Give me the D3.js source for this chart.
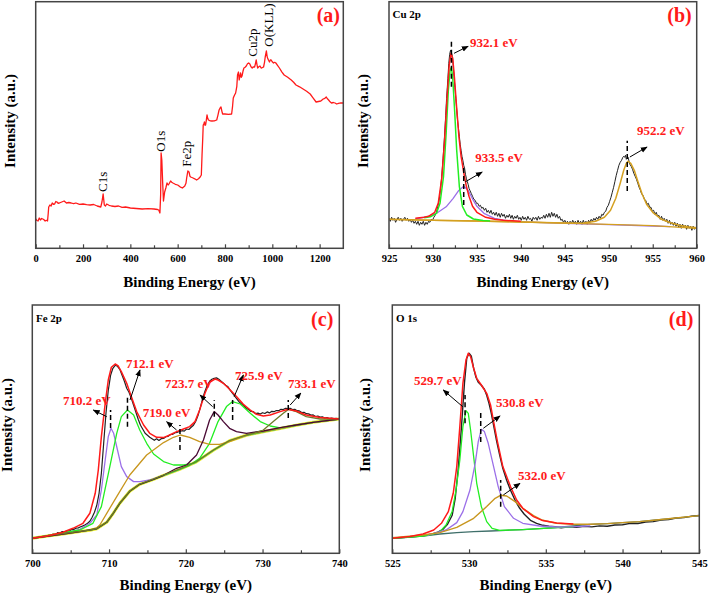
<!DOCTYPE html>
<html><head><meta charset="utf-8">
<script src="https://cdn.jsdelivr.net/npm/d3@7"></script>
<style>body{margin:0;background:#fff}svg{display:block}</style>
</head><body><svg id="c" width="709" height="595"></svg>
<script>
// ---------------- DATA (binding energy eV, intensity a.u.) ----------------
// (a) survey
const surveyA = [[0,29.3],[5,27.8],[10,27.3],[15,30.3],[20,28.3],[25,29.8],[30,29.3],[35,28.5],[40,27.3],[45,28.0],[50,27.3],[53,35],[55,41.3],[60,43.3],[65,42.3],[70,45.3],[75,44.0],[80,44.3],[85,46.8],[90,46.3],[95,45.0],[100,45.3],[110,46.3],[120,47.3],[130,45.3],[140,45.8],[150,45.3],[160,44.6],[170,45.3],[185,44.0],[200,44.3],[215,43.6],[230,43.3],[245,43.8],[260,42.3],[275,41.3],[280,46.3],[285,54.3],[290,43.3],[295,42.3],[300,44.3],[310,43.0],[320,42.3],[335,41.8],[350,42.3],[365,41.0],[380,41.3],[400,40.3],[425,39.8],[450,39.3],[475,39.6],[500,39.3],[515,38.8],[520,38.3],[525,35.3],[528,53.3],[530,95.3],[533,88.3],[537,63.3],[540,47.3],[545,56.3],[550,60.3],[555,65.3],[560,63.3],[565,65.0],[570,67.3],[575,66.0],[580,65.3],[590,64.0],[600,63.3],[610,61.5],[620,60.3],[630,62.3],[635,65],[638,70.3],[643,77.3],[648,76.3],[652,72],[655,71.3],[665,70.3],[672,69.5],[680,68.3],[688,69.5],[695,71.3],[700,73.3],[703,93.3],[706,110],[708,123.3],[711,124.5],[713,126.3],[716,123],[718,123.3],[721,128],[724,133.3],[727,130],[730,128.3],[738,127.5],[745,127.3],[755,127.5],[765,128.3],[770,133],[775,138.3],[780,140.5],[783,141.3],[787,137],[790,134.3],[800,134.3],[815,134.0],[828,134.3],[832,142],[835,150.3],[840,153],[845,155.3],[850,162],[853,173.3],[857,176.3],[860,168.3],[863,172],[866,175.3],[869,171],[872,172.3],[876,177],[880,180.3],[885,181],[890,182.3],[895,184.5],[900,185.3],[905,184.3],[910,181.5],[915,180.3],[920,181.5],[925,181.3],[928,184],[932,188.3],[935,184],[938,180.3],[943,181.5],[948,182.3],[952,180.5],[955,180.3],[960,181],[963,181.3],[967,186],[970,191.3],[975,197.3],[978,192],[980,190.3],[984,188],[988,186.3],[992,188.5],[995,188.3],[1000,186.5],[1005,185.3],[1010,186],[1015,185.3],[1022,183],[1030,180.3],[1040,176.5],[1050,173.3],[1065,171],[1080,168.3],[1090,166],[1100,163.3],[1115,161.5],[1130,159.3],[1145,157],[1160,154.3],[1172,150.5],[1185,146.3],[1195,146.8],[1205,147.3],[1215,149.3],[1222,150],[1228,151.3],[1233,149.5],[1238,148.3],[1244,146.5],[1250,145.3],[1258,145.8],[1265,145.3],[1272,144.3],[1280,145.0],[1290,145.5],[1300,145.3]];
const surveyLabels = [["C1s",302.6,56.3],["O1s",546.5,96.6],["Fe2p",656.4,81.6],["Cu2p",935.3,191.6],["O(KLL)",1002.9,201.6]];

// (b) Cu 2p
const cuRaw = [[925.0,30],[925.15,27],[925.3,31],[925.45,28],[925.6,30],[925.75,26],[925.9,29],[926.05,31],[926.2,28],[926.35,30],[926.5,27],[926.65,29],[926.8,31],[926.95,28],[927.1,30],[927.25,27],[927.4,29],[927.55,26],[927.7,28],[927.85,25],[928.0,27],[928.15,24],[928.3,27],[928.45,23],[928.6,26],[928.75,24],[928.9,27],[929.05,23],[929.2,26],[929.35,24],[929.5,27],[929.65,26],[929.8,29],[929.95,28],[930.1,31],[930.25,33],[930.4,36],[930.55,42],[930.7,48],[930.85,58],[931.0,72],[931.15,90],[931.3,110],[931.45,133],[931.55,150],[931.7,170],[931.8,185],[931.9,194],[932.0,198],[932.1,196],[932.2,192],[932.3,183],[932.4,172],[932.5,161],[932.6,150],[932.7,139],[932.8,128],[932.9,120],[933.0,112],[933.1,104],[933.2,98],[933.3,92],[933.4,88],[933.5,83],[933.6,80],[933.7,74],[933.8,70],[933.9,67],[934.0,64],[934.1,60],[934.2,58],[934.35,55],[934.5,52],[934.65,49],[934.8,48],[934.95,45],[935.1,45],[935.25,42],[935.4,43],[935.55,40],[935.7,41],[935.85,38],[936.0,40],[936.15,36],[936.3,38],[936.45,35],[936.6,38],[936.75,34],[936.9,36],[937.05,33],[937.2,36],[937.35,32],[937.5,35],[937.65,31],[937.8,35],[937.95,32],[938.1,34],[938.25,30],[938.4,33],[938.55,31],[938.7,34],[938.85,30],[939.0,33],[939.15,29],[939.3,32],[939.45,30],[939.6,33],[939.75,29],[939.9,31],[940.05,28],[940.2,32],[940.35,29],[940.5,31],[940.65,28],[940.8,32],[940.95,29],[941.1,30],[941.25,27],[941.4,31],[941.55,29],[941.7,31],[941.85,28],[942.0,32],[942.15,29],[942.3,31],[942.45,30],[942.6,33],[942.75,30],[942.9,34],[943.05,31],[943.2,35],[943.35,31],[943.5,36],[943.65,32],[943.8,35],[943.95,31],[944.1,34],[944.25,30],[944.4,32],[944.55,28],[944.7,29],[944.85,26],[945.0,28],[945.15,25],[945.3,27],[945.45,24],[945.6,27],[945.75,25],[945.9,28],[946.05,25],[946.2,27],[946.35,24],[946.5,28],[946.65,25],[946.8,27],[946.95,24],[947.1,28],[947.25,25],[947.4,27],[947.55,24],[947.7,28],[947.85,26],[948.0,29],[948.15,27],[948.3,30],[948.45,28],[948.6,31],[948.75,29],[948.9,32],[949.05,30],[949.2,34],[949.35,33],[949.5,36],[949.65,37],[949.8,41],[949.95,43],[950.1,47],[950.25,51],[950.4,56],[950.55,61],[950.7,67],[950.85,73],[951.0,78],[951.15,83],[951.3,86],[951.45,88],[951.6,91],[951.7,92],[951.8,91],[951.9,93],[952.0,89],[952.1,90],[952.2,91],[952.3,87],[952.4,84],[952.55,82],[952.7,79],[952.85,75],[953.0,72],[953.15,69],[953.3,65],[953.45,61],[953.6,58],[953.75,54],[953.9,53],[954.05,49],[954.2,48],[954.35,44],[954.5,45],[954.65,41],[954.8,41],[954.95,37],[955.1,38],[955.25,34],[955.4,36],[955.55,32],[955.7,33],[955.85,29],[956.0,32],[956.15,28],[956.3,30],[956.45,27],[956.6,29],[956.75,25],[956.9,28],[957.05,24],[957.2,26],[957.35,23],[957.5,26],[957.65,22],[957.8,25],[957.95,21],[958.1,24],[958.25,20],[958.4,24],[958.55,21],[958.7,23],[958.85,19],[959.0,23],[959.15,20],[959.3,22],[959.45,18],[959.6,22],[959.75,19],[959.9,21],[960.0,20]];
const cuBg = [[925,29],[930,28],[935,27.3],[940,26.3],[945,25.2],[950,24],[955,22.6],[960,20]];
const cu932 = [[929,30.5],[929.7,31.5],[930.4,35],[930.8,45],[931.2,71.7],[931.5,115],[931.75,158],[931.95,178],[932.1,181],[932.25,170],[932.45,140],[932.7,98],[933.0,62],[933.35,42],[933.85,33.3],[934.6,29.3],[935.7,27.7],[936.5,27.2]];
const cu933 = [[928,29.3],[929.5,32],[930.5,35.5],[931.5,41.5],[932.3,50],[932.9,57.5],[933.5,62],[934.0,58],[934.5,49.5],[935,42],[935.8,35],[937,30],[938.5,27.5],[940,26.5],[945,25],[950,23.7],[955,22.3],[957,21.6]];
const cu952 = [[925,29],[930,28],[935,27.3],[940,26.3],[945,25.2],[947,25],[948.5,27],[949.5,31],[950.2,38],[950.8,50],[951.3,65],[951.7,78],[952.0,85],[952.2,87],[952.5,85],[952.9,78],[953.3,67],[953.8,54],[954.3,44],[955,36],[956,29],[957,25.5],[958,23],[959,21.5],[960,20.5]];
const cuEnv = [[928,30],[929,31],[929.5,32],[930.2,36],[930.6,45],[931.0,70],[931.3,105],[931.6,150],[931.85,183],[932.05,195],[932.25,190],[932.45,170],[932.7,140],[932.95,112],[933.2,92],[933.5,76],[933.8,62],[934.1,52],[934.5,42],[935,36],[936,31],[937,29],[938,28],[940,27]];
const cuAnn = [["932.1 eV",932.1,161.6,208.3,932.4,195,934.0,202,934.2,201],["933.5 eV",933.5,43.3,80.3,933.65,66.3,935.6,76.3,934.8,86.8],["952.2 eV",952.1,57.3,107.6,952.4,91.3,954.35,101.3,953.2,113.8]];

// (c) Fe 2p
const feRaw = [[700,15],[700.3,15.8],[700.6,15.2],[700.9,16.6],[701.2,16.2],[701.5,17.4],[701.8,16.9],[702.1,18.1],[702.4,17.8],[702.7,19.2],[703,18.7],[703.3,20.6],[703.6,20.2],[703.9,21.8],[704.2,21.2],[704.5,22.4],[704.8,22.1],[705.1,23.7],[705.4,23.9],[705.7,25.1],[706,25.4],[706.3,26.5],[706.6,27.4],[706.9,28.6],[707.2,30],[707.5,32],[707.8,36],[708.1,41],[708.4,48],[708.7,60],[709.0,80],[709.3,110],[709.6,140],[709.9,163],[710.2,178],[710.5,185],[710.8,188],[711.1,187],[711.4,184],[711.7,178],[712.0,172],[712.3,165],[712.6,161],[712.9,155],[713.2,148],[713.5,141],[713.8,134],[714.1,128],[714.4,124],[714.7,120],[715.0,118],[715.3,116],[715.6,114.5],[715.9,113],[716.2,114.5],[716.5,112.8],[716.8,114.6],[717.1,114.8],[717.4,116.6],[717.7,117],[718.0,118.8],[718.3,119],[718.6,120.6],[718.9,121],[719.2,121.8],[719.5,122.6],[719.8,122.2],[720.1,124.3],[720.4,123.8],[720.7,126],[721.0,128],[721.3,132],[721.6,138],[721.9,146],[722.2,155],[722.5,162],[722.8,168],[723.1,172],[723.4,174],[723.7,175],[724.0,175.5],[724.3,174],[724.6,172],[724.9,170],[725.2,168],[725.5,166.5],[725.8,163],[726.1,160],[726.4,157],[726.7,154],[727.0,151],[727.3,149],[727.6,147],[727.9,145],[728.2,143.6],[728.5,141.8],[728.8,141.6],[729.1,139.8],[729.4,140.2],[729.7,139.2],[730.0,140.6],[730.3,139.8],[730.6,141.4],[730.9,140.4],[731.2,142],[731.5,141.6],[731.8,142.8],[732.1,142.6],[732.4,144],[732.7,143.8],[733.0,145],[733.3,144.8],[733.6,145],[733.9,143.8],[734.2,144],[734.5,142.6],[734.8,142.4],[735.1,140.8],[735.4,141],[735.7,139.6],[736.0,139.4],[736.3,138.2],[736.6,138.4],[736.9,136.8],[737.2,137.3],[737.5,136.2],[737.8,136.4],[738.1,135.2],[738.4,135.8],[738.7,134.8],[739.0,135.3],[739.3,134.7],[739.6,134.9],[740.0,134.5]];
const feBg = [[700,15],[702,17.3],[704,19.3],[706.2,21.7],[707.5,23],[708.4,24.5],[709.7,31],[710.55,40],[711.4,50],[712.7,62],[714,69],[715.8,74],[717.1,78],[719.2,84],[721.4,91.5],[723.6,103],[725.7,112.5],[727.9,118],[730.1,121.5],[732.3,124.8],[734.4,128],[736.6,131],[740,134.3]];
const fe710 = [[700,15],[704,20],[706.2,24],[707.5,30],[708.4,38.3],[709.0,63.3],[709.5,93.3],[709.9,116.7],[710.25,125],[710.6,120],[711.1,103.3],[711.6,86.7],[712.3,76.7],[713.2,71.7],[714.0,71.7],[715.3,73.3],[717.1,78],[719.2,84],[721.4,91.5],[723.6,103],[725.7,112.5],[727.9,118],[730.1,121.5],[732.3,124.8],[734.4,128],[736.6,131],[740,134.3]];
const fe712 = [[700,15],[704,20.7],[706.2,23.3],[707.9,30],[709.0,46.7],[710.1,86.7],[711.0,120],[711.6,136.7],[712.4,143.3],[713.2,138.3],[714.0,123.3],[714.9,110],[715.8,99.3],[717.1,91.7],[718.4,88.3],[719.7,88.3],[721.0,90],[721.4,91.5],[723.6,103],[725.7,112.5],[727.9,118],[730.1,121.5],[732.3,124.8],[734.4,128],[736.6,131],[740,134.3]];
const fe726 = [[700,15],[704,19.3],[706.2,21.7],[708.4,24.5],[709.7,31],[710.55,40],[711.4,50],[712.7,62],[714,69],[715.8,74],[717.1,78],[719.2,84],[720.5,88],[721.8,95],[723.1,110],[724.2,131.7],[725.3,146.7],[726.1,151.7],[727.1,149.3],[728.4,140],[729.7,131.7],[731.0,127.3],[732.3,125.5],[734.4,128.3],[736.6,131],[740,134.3]];
const fe719 = [[700,15],[704,19.3],[706.2,21.7],[707.5,23.5],[708.4,25.5],[708.8,28.3],[709.7,40],[711.0,56.7],[712.7,78.3],[714.9,98.3],[717.1,110.7],[718.4,116],[719.3,118.3],[720.5,116],[721.8,111.7],[723.1,109],[724.4,109],[725.7,111.7],[727.1,116],[728.4,119.3],[730.1,121.7],[732.3,125],[734.4,128.3],[736.6,131],[740,134.3]];
const fe724 = [[700,15],[704,19.3],[706.2,21.7],[708.4,24.5],[709.7,31],[710.55,40],[711.4,50],[712.7,62],[714,69],[715.8,74],[717.1,78],[718.8,85],[720.1,88.3],[721.4,98.3],[722.3,113.3],[723.1,133.3],[723.7,141.7],[724.2,138.3],[724.9,131.7],[725.7,125],[726.6,121.7],[727.9,120],[730.1,122.3],[732.3,125.7],[734.4,128.3],[736.6,131],[740,134.3]];
const fe733 = [[700,15.3],[702,17.6],[704,19.6],[706.2,22],[707.5,23.3],[708.4,24.8],[709.7,31.3],[710.55,40.3],[711.4,50.3],[712.7,62.3],[714,69.3],[715.8,74.3],[717.1,78.3],[719.2,84.3],[721.4,91.8],[723.6,103.3],[725.7,112.8],[727.9,118.3],[729,120.5],[730.1,123.3],[731.4,131.7],[732.7,140],[733.4,144],[734.4,141.7],[735.7,136.7],[737.5,134.3],[740,134.3]];
const feEnv = [[700,15],[701.9,17.3],[704.0,21],[705.3,25],[706.6,30],[707.5,40],[708.2,60],[708.6,83.3],[709.0,116.7],[709.5,150],[709.9,173.3],[710.3,186],[710.8,189.3],[711.2,187.3],[711.6,181.7],[712.3,170],[712.9,156.7],[713.6,141.7],[714.5,128.3],[715.3,120],[716.2,116],[717.1,115.7],[717.9,118.3],[718.8,121.7],[719.7,124.3],[720.5,126.7],[721.2,131.7],[721.8,143.3],[722.5,160],[723.1,171],[723.8,174.3],[724.2,173.3],[724.9,170],[725.7,164],[726.6,156.7],[727.5,149],[728.4,143.3],[729.2,139],[730.1,137.3],[731.0,138.3],[732.3,141.7],[733.3,144],[734.4,142.3],[735.7,138.3],[737.5,135.7],[740,134.3]];
const feAnn = [["710.2 eV",710.2,125.3,143.3,709.7,136.6,707.95,143.3,704.0,148.8],["712.1 eV",712.4,126.6,156.6,712.73,153.3,714.03,183.3,712.2,185.8],["719.0 eV",719.24,103.3,128.3,718.8,123.3,717.5,131.6,714.4,136.8],["723.7 eV",723.71,136.6,153.3,723.5,146.6,721.85,158.3,717.3,165.8],["725.9 eV",726.1,133.3,153.3,726.3,156.6,727.5,178.3,726.4,173.8],["733.1 eV",733.35,135.3,153.3,733.6,148.3,735.0,160.3,733.3,165.8]];

// (d) O 1s
const oRaw = [[525,15],[525.5,15.5],[526,16],[526.5,16.7],[527,17.5],[527.5,19],[528,21.5],[528.3,24],[528.6,29],[528.9,38],[529.1,55],[529.3,85],[529.5,125],[529.7,170],[529.85,195],[530.0,200],[530.15,197],[530.3,185],[530.45,176],[530.6,171],[530.8,168],[531.0,164],[531.15,158],[531.3,150],[531.45,140],[531.6,128],[531.8,112],[532.0,98],[532.2,85],[532.45,73],[532.7,63],[533.0,53],[533.3,45],[533.6,39],[534.0,33],[534.4,30],[534.8,28],[535.2,27],[535.6,26.5],[536,25.6],[536.5,26.6],[537,25.9],[537.5,26.9],[538,26.4],[538.5,27.4],[539,27.1],[539.5,28.3],[540,28.5],[540.5,29.9],[541,29.8],[541.5,31.3],[542,31.7],[542.5,33.3],[543,33.7],[543.5,35.3],[544,35.7],[544.5,37.2],[545,37.8]];
const oBg = [[525,15],[527,17.3],[528.1,19.3],[529.2,20.7],[530.3,21.7],[531.4,22.3],[532.4,23],[533.5,23.7],[534.6,24.7],[535.7,25.8],[536.8,27.5],[537.9,29],[539.0,29.7],[540.0,30.7],[541.1,31.7],[542.2,33.3],[543.3,35],[545,37.7]];
const o529 = [[525,15],[527,17.3],[527.7,19.3],[528.1,21.7],[528.5,28.3],[528.9,41.7],[529.15,63.3],[529.4,93.3],[529.6,126.7],[529.8,142.7],[529.95,140],[530.1,123.3],[530.3,96.7],[530.5,70],[530.8,46.7],[531.15,31.7],[531.5,25],[532.0,23],[533.5,23.7],[534.6,24.7],[535.7,25.8],[536.8,26.5]];
const o530 = [[527.3,18.2],[527.9,20.7],[528.5,23.3],[529.2,30.7],[529.6,41.7],[530.06,63.3],[530.4,90],[530.6,111.7],[530.8,124],[531.0,121.7],[531.25,110],[531.6,86.7],[531.9,66.7],[532.3,46.7],[532.9,35],[533.5,30],[534.6,27.3],[535.7,26.3],[537,26.6],[537.9,27.5]];
const o532 = [[525,15.7],[527.0,18.3],[528.1,20.7],[529.2,26],[530.3,35],[531.15,46.7],[531.7,55],[532.05,58],[532.45,57.3],[533.0,51.7],[533.5,45],[534.2,37.7],[534.8,33],[535.7,30],[536.8,29],[537.9,29],[539.0,29.7],[540.0,30.7],[541.1,31.7],[542.2,33.3],[543.3,35],[545,37.7]];
const oEnv = [[525,15],[526.15,16.7],[527.0,19.3],[527.7,23.3],[528.2,30],[528.65,41.7],[528.97,60],[529.2,86.7],[529.4,126.7],[529.6,170],[529.8,193.3],[529.95,200],[530.1,196.7],[530.3,185],[530.5,175],[530.8,168.3],[531.15,160],[531.4,148.3],[531.6,131.7],[531.85,111.7],[532.2,86.7],[532.7,66.7],[533.1,53.3],[533.5,45],[534.2,36.7],[534.8,32.7],[535.7,30.3],[536.8,29.3]];
const oAnn = [["529.7 eV",529.74,130,158.3,529.59,146.6,528.32,163.3,526.41,168.1],["530.8 eV",530.76,111.3,140.3,530.93,125,532.02,137.3,531.76,146.1],["532.0 eV",532.06,46.6,73.3,532.23,58.3,533.32,70,533.19,73.8]];

// ticks
const ticksA = [0,200,400,600,800,1000,1200], minorA = [100,300,500,700,900,1100];
const ticksB = [925,930,935,940,945,950,955,960], minorB = [927.5,932.5,937.5,942.5,947.5,952.5,957.5];
const ticksC = [700,710,720,730,740], minorC = [705,715,725,735];
const ticksD = [525,530,535,540,545], minorD = [527.5,532.5,537.5,542.5];

// ---------------- DRAWING ----------------
const svg = d3.select("#c");
const FONT = "'Liberation Serif','Times New Roman',serif";
const defs = svg.append("defs");
defs.append("marker").attr("id","arr").attr("viewBox","0 0 10 10").attr("refX",9).attr("refY",5)
  .attr("markerWidth",7).attr("markerHeight",7).attr("markerUnits","userSpaceOnUse").attr("orient","auto")
  .append("path").attr("d","M0,1 L10,5 L0,9 Z").attr("fill","#000");

function panel(id, box, domain, major, minor) {
  const x = d3.scaleLinear().domain(domain).range([box.x0, box.x1]);
  const y = d3.scaleLinear().domain([0, box.y1 - box.y0]).range([box.y1, box.y0]);
  defs.append("clipPath").attr("id","clip"+id).append("rect")
    .attr("x",box.x0).attr("y",box.y0).attr("width",box.x1-box.x0).attr("height",box.y1-box.y0);
  const g = svg.append("g");
  const plot = g.append("g").attr("clip-path",`url(#clip${id})`);
  const line = d3.line().x(d=>x(d[0])).y(d=>y(d[1]));
  const ax = g.append("g").attr("transform",`translate(0,${box.y1})`)
    .call(d3.axisBottom(x).tickValues(major).tickSizeInner(-4).tickSizeOuter(0).tickPadding(6.6).tickFormat(d3.format("d")));
  ax.select(".domain").remove();
  ax.selectAll("line").attr("stroke","#444").attr("stroke-width",1.2);
  ax.selectAll("text").attr("font-family",FONT).attr("font-weight","bold").attr("font-size",10.5).attr("fill","#000");
  const mx = g.append("g").attr("transform",`translate(0,${box.y1})`)
    .call(d3.axisBottom(x).tickValues(minor).tickSizeInner(-3).tickSizeOuter(0).tickFormat(""));
  mx.select(".domain").remove();
  mx.selectAll("line").attr("stroke","#444").attr("stroke-width",1.2);
  return {x,y,g,plot,line,box};
}
function curve(p, data, color, w) {
  p.plot.append("path").datum(data).attr("d",p.line).attr("fill","none")
    .attr("stroke",color).attr("stroke-width",w).attr("stroke-linejoin","round");
}
function frame(p) {
  const b = p.box;
  p.g.append("rect").attr("x",b.x0).attr("y",b.y0).attr("width",b.x1-b.x0).attr("height",b.y1-b.y0)
    .attr("fill","none").attr("stroke","#444").attr("stroke-width",1.5);
}
function titles(p, yx, yy, xb) {
  const b = p.box;
  p.g.append("text").attr("x",(b.x0+b.x1)/2).attr("y",xb).attr("text-anchor","middle")
    .attr("font-family",FONT).attr("font-weight","bold").attr("font-size",15).text("Binding Energy (eV)");
  p.g.append("text").attr("transform",`translate(${yx},${yy}) rotate(-90)`).attr("text-anchor","middle")
    .attr("font-family",FONT).attr("font-weight","bold").attr("font-size",15).text("Intensity (a.u.)");
}
function tag(p, t, xr, yb) {
  p.g.append("text").attr("x",xr).attr("y",yb).attr("text-anchor","end").attr("fill","#FF1A1A")
    .attr("font-family",FONT).attr("font-weight","bold").attr("font-size",20).text(t);
}
function head(p, t, xl, yb) {
  p.g.append("text").attr("x",xl).attr("y",yb).attr("font-family",FONT).attr("font-weight","bold")
    .attr("font-size",11).text(t);
}
function annotate(p, ann) {
  ann.forEach(a => {
    const [lab,e,d0,d1,ax0,ay0,ax1,ay1,tx,ty] = a;
    p.g.append("line").attr("x1",p.x(e)).attr("x2",p.x(e)).attr("y1",p.y(d0)).attr("y2",p.y(d1))
      .attr("stroke","#000").attr("stroke-width",1.5).attr("stroke-dasharray","5,3");
    p.g.append("line").attr("x1",p.x(ax0)).attr("y1",p.y(ay0)).attr("x2",p.x(ax1)).attr("y2",p.y(ay1))
      .attr("stroke","#000").attr("stroke-width",1).attr("marker-end","url(#arr)");
    p.g.append("text").attr("x",p.x(tx)).attr("y",p.y(ty)).attr("fill","#FF1A1A").attr("font-family",FONT)
      .attr("font-weight","bold").attr("font-size",13).text(lab);
  });
}

// (a)
const pa = panel("a",{x0:35.7,x1:343.3,y0:1.7,y1:248.3},[0,1300],ticksA,minorA);
curve(pa, surveyA, "#FF1A1A", 1.3);
surveyLabels.forEach(l => {
  pa.g.append("text").attr("transform",`translate(${pa.x(l[1])},${pa.y(l[2])}) rotate(-90)`)
    .attr("font-family",FONT).attr("font-size",13).text(l[0]);
});
frame(pa); titles(pa, 15, 121, 287); tag(pa,"(a)",340,22);

// (b)
const pb = panel("b",{x0:389,x1:696.7,y0:1.7,y1:248.3},[925,960],ticksB,minorB);
curve(pb, cuRaw, "#222", 1);
curve(pb, cu933, "#9B6FE8", 1.3);
curve(pb, cuBg, "#D4A020", 1.3);
curve(pb, cu952, "#D4A020", 1.5);
curve(pb, cu932, "#22EE22", 1.5);
curve(pb, cuEnv, "#FF1A1A", 1.5);
annotate(pb, cuAnn);
frame(pb); titles(pb, 368, 121, 287); head(pb,"Cu 2p",392.5,18); tag(pb,"(b)",691.7,22);

// (c)
const pc = panel("c",{x0:32.3,x1:339.3,y0:305,y1:553.3},[700,740],ticksC,minorC);
curve(pc, feRaw, "#222", 1.2);
curve(pc, feBg, "#E8E830", 3);
curve(pc, fe710, "#9B6FE8", 1.3);
curve(pc, fe712, "#22EE22", 1.3);
curve(pc, fe726, "#22EE22", 1.3);
curve(pc, fe719, "#C8961E", 1.3);
curve(pc, fe724, "#4A0A35", 1.3);
curve(pc, fe733, "#6E7A28", 1.3);
curve(pc, feEnv, "#FF1A1A", 1.5);
annotate(pc, feAnn);
frame(pc); titles(pc, 11.5, 425, 590); head(pc,"Fe 2p",36,322); tag(pc,"(c)",333.3,326);

// (d)
const pd = panel("d",{x0:392.3,x1:699.3,y0:305,y1:553.3},[525,545],ticksD,minorD);
curve(pd, oRaw, "#222", 1.4);
curve(pd, oBg, "#3F6F6A", 1.3);
curve(pd, o529, "#22EE22", 1.3);
curve(pd, o530, "#9B6FE8", 1.3);
curve(pd, o532, "#C8961E", 1.4);
curve(pd, oEnv, "#FF1A1A", 1.5);
annotate(pd, oAnn);
frame(pd); titles(pd, 370, 425, 590); head(pd,"O 1s",396,322); tag(pd,"(d)",693.3,326);
</script></body></html>
